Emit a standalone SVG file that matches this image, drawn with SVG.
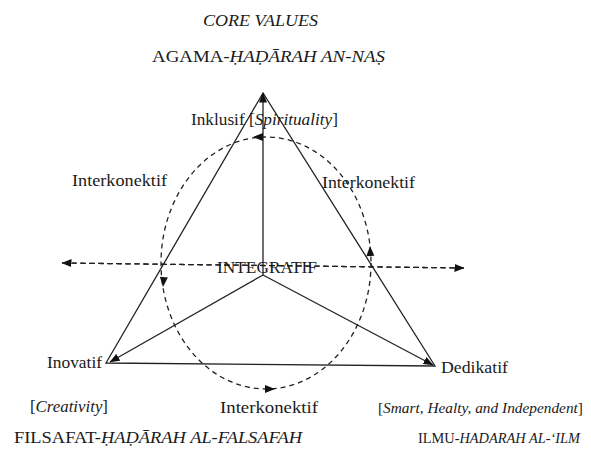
<svg xmlns="http://www.w3.org/2000/svg" width="591" height="458" viewBox="0 0 591 458">
<style>
  text { font-family: "Liberation Serif", "DejaVu Serif", serif; font-size: 16.5px; fill: #1a1a1a; }
  .it { font-style: italic; }
  .sm { font-size: 14.8px; }
  .xs { font-size: 14.5px; }
  .ln { stroke: #222; stroke-width: 1.3; fill: none; }
  .dash { stroke: #222; stroke-width: 1.3; fill: none; stroke-dasharray: 5 4; }
  .ah { fill: #111; }
</style>
<defs>
  <marker id="arr" viewBox="0 0 10 8" refX="9.5" refY="4" markerWidth="10" markerHeight="8" markerUnits="userSpaceOnUse" orient="auto">
    <path d="M0,0 L10,4 L0,8 Z" fill="#111"/>
  </marker>
  <polygon id="head" points="0,0 -10,-4 -10,4" class="ah"/>
</defs>
<rect width="591" height="458" fill="#fff"/>
<g id="connectors">
  <polygon class="ln" points="263,93 106,363 435,366"/>
  <line class="ln" x1="263" y1="275" x2="263" y2="93" marker-end="url(#arr)"/>
  <line class="ln" x1="263" y1="275" x2="110" y2="362" marker-end="url(#arr)"/>
  <line class="ln" x1="263" y1="275" x2="433" y2="365" marker-end="url(#arr)"/>
  <ellipse class="dash" cx="266" cy="263" rx="105" ry="126"/>
  <use href="#head" transform="translate(253,137) rotate(180)"/>
  <use href="#head" transform="translate(163,287) rotate(95)"/>
  <use href="#head" transform="translate(275,389) rotate(0)"/>
  <use href="#head" transform="translate(370,246) rotate(-92)"/>
  <line class="dash" x1="464" y1="268" x2="62" y2="263" marker-end="url(#arr)"/>
  <line class="dash" x1="62" y1="263" x2="464" y2="268" marker-end="url(#arr)"/>
</g>
<g id="title"><text class="it" x="203" y="26" textLength="115" lengthAdjust="spacingAndGlyphs">CORE VALUES</text></g>
<g id="agama"><text x="152" y="62" textLength="233" lengthAdjust="spacingAndGlyphs">AGAMA-<tspan class="it">ḤAḌĀRAH AN-NAṢ</tspan></text></g>
<g id="inklusif"><text x="191" y="125" textLength="147" lengthAdjust="spacingAndGlyphs">Inklusif [<tspan class="it">Spirituality</tspan>]</text></g>
<g id="interkonektif-left"><text x="72" y="186" textLength="95" lengthAdjust="spacingAndGlyphs">Interkonektif</text></g>
<g id="interkonektif-right"><text x="322" y="188" textLength="93" lengthAdjust="spacingAndGlyphs">Interkonektif</text></g>
<g id="integratif"><text x="217" y="273" textLength="100" lengthAdjust="spacingAndGlyphs">INTEGRATIF</text></g>
<g id="inovatif"><text x="47" y="368" textLength="55" lengthAdjust="spacingAndGlyphs">Inovatif</text></g>
<g id="dedikatif"><text x="441" y="373" textLength="67" lengthAdjust="spacingAndGlyphs">Dedikatif</text></g>
<g id="creativity"><text x="30" y="412" textLength="78" lengthAdjust="spacingAndGlyphs">[<tspan class="it">Creativity</tspan>]</text></g>
<g id="interkonektif-bottom"><text x="220" y="413" textLength="98" lengthAdjust="spacingAndGlyphs">Interkonektif</text></g>
<g id="smart"><text class="sm" x="378" y="413" textLength="205" lengthAdjust="spacingAndGlyphs">[<tspan class="it">Smart, Healty, and Independent</tspan>]</text></g>
<g id="filsafat"><text x="14" y="443" textLength="288" lengthAdjust="spacingAndGlyphs">FILSAFAT-<tspan class="it">ḤAḌĀRAH AL-FALSAFAH</tspan></text></g>
<g id="ilmu"><text class="xs" x="418" y="443" textLength="162" lengthAdjust="spacingAndGlyphs">ILMU-<tspan class="it">HADARAH AL-‘ILM</tspan></text></g>
</svg>
